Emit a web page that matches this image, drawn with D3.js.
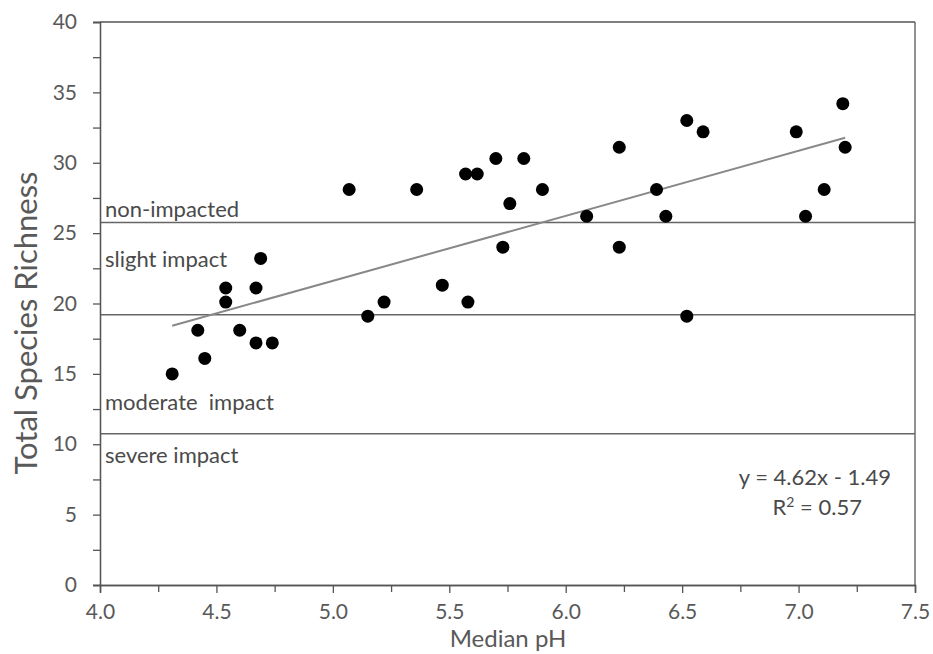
<!DOCTYPE html>
<html>
<head>
<meta charset="utf-8">
<script src="https://cdn.jsdelivr.net/npm/d3@7"></script>
<style>
  html, body { margin: 0; padding: 0; background: #fff; }
  svg { display: block; font-family: Lato, "Open Sans", sans-serif; }
</style>
</head>
<body>
<svg id="chart" width="933" height="654"></svg>
<script>
// ---- data ----
const medianPH = [4.31, 4.42, 4.45, 4.54, 4.54, 4.60, 4.67, 4.67, 4.69, 4.74,
                  5.07, 5.15, 5.22, 5.36, 5.47, 5.58, 5.57, 5.62, 5.70, 5.73,
                  5.76, 5.82, 5.90, 6.09, 6.23, 6.23, 6.39, 6.43, 6.52, 6.52,
                  6.59, 6.99, 7.03, 7.11, 7.19, 7.20];
const speciesRichness = [15, 18.1, 16.1, 21.1, 20.1, 18.1, 17.2, 21.1, 23.2, 17.2,
                         28.1, 19.1, 20.1, 28.1, 21.3, 20.1, 29.2, 29.2, 30.3, 24,
                         27.1, 30.3, 28.1, 26.2, 31.1, 24, 28.1, 26.2, 33, 19.1,
                         32.2, 32.2, 26.2, 28.1, 34.2, 31.1];
const xTicks = [4.0, 4.5, 5.0, 5.5, 6.0, 6.5, 7.0, 7.5];
const xMinorTicks = [4.25, 4.75, 5.25, 5.75, 6.25, 6.75, 7.25];
const yTicks = [0, 5, 10, 15, 20, 25, 30, 35, 40];
const yMinorTicks = [2.5, 7.5, 12.5, 17.5, 22.5, 27.5, 32.5, 37.5];
const thresholds = [25.75, 19.2, 10.75];
const zoneLabels = ["non-impacted", "slight impact", "moderate  impact", "severe impact"];
const zoneLabelY = [26.14, 22.6, 12.43, 8.66];
const slope = 4.62, intercept = -1.49, rSquared = 0.57;
const fitRange = [4.31, 7.2];

// ---- layout ----
const svg = d3.select("#chart");
const m = {left: 100, top: 22, right: 18, bottom: 69};
const W = 933 - m.left - m.right, H = 654 - m.top - m.bottom;
const x = d3.scaleLinear().domain([4, 7.5]).range([0, W]);
const y = d3.scaleLinear().domain([0, 40]).range([H, 0]);
const g = svg.append("g").attr("transform", `translate(${m.left},${m.top})`);
const axisCol = "#555";
const textCol = "#595959";

// frame (top and right)
g.append("line").attr("x1", 0).attr("x2", W).attr("y1", 0).attr("y2", 0)
  .attr("stroke", axisCol).attr("stroke-width", 1.3);
g.append("line").attr("x1", W).attr("x2", W).attr("y1", 0).attr("y2", H)
  .attr("stroke", axisCol).attr("stroke-width", 1.3);

// threshold lines
g.selectAll(".thr").data(thresholds).join("line")
  .attr("x1", 0).attr("x2", W)
  .attr("y1", d => y(d)).attr("y2", d => y(d))
  .attr("stroke", "#666").attr("stroke-width", 1.6);

// zone labels
g.selectAll(".zl").data(zoneLabels).join("text")
  .attr("x", 5).attr("y", (d, i) => y(zoneLabelY[i]))
  .attr("fill", "#4a4a4a").attr("font-size", 22)
  .attr("xml:space", "preserve")
  .style("white-space", "pre")
  .text(d => d);

// regression line
g.append("line")
  .attr("x1", x(fitRange[0])).attr("y1", y(slope * fitRange[0] + intercept))
  .attr("x2", x(fitRange[1])).attr("y2", y(slope * fitRange[1] + intercept))
  .attr("stroke", "#888").attr("stroke-width", 2);

// points
g.selectAll(".pt").data(medianPH).join("circle")
  .attr("cx", d => x(d)).attr("cy", (d, i) => y(speciesRichness[i]))
  .attr("r", 6.5).attr("fill", "#000");

// axes
const xAxis = g.append("g").attr("transform", `translate(0,${H})`)
  .call(d3.axisBottom(x).tickValues(xTicks).tickFormat(d3.format(".1f")).tickSize(8).tickPadding(11));
const xMinor = g.append("g").attr("transform", `translate(0,${H})`)
  .call(d3.axisBottom(x).tickValues(xMinorTicks).tickFormat("").tickSize(7));
const yAxis = g.append("g")
  .call(d3.axisLeft(y).tickValues(yTicks).tickFormat(d3.format("d")).tickSize(7).tickPadding(16));
const yMinor = g.append("g")
  .call(d3.axisLeft(y).tickValues(yMinorTicks).tickFormat("").tickSize(7));
[xAxis, xMinor, yAxis, yMinor].forEach(a => {
  a.select(".domain").attr("stroke", axisCol).attr("stroke-width", 1.3);
  a.selectAll(".tick line").attr("stroke", axisCol).attr("stroke-width", 1.3);
  a.selectAll(".tick text").attr("fill", textCol).attr("font-size", 21)
    .attr("font-family", "Lato, 'Open Sans', sans-serif");
});

// equation
g.append("text").attr("x", x(7.07)).attr("y", 485 - m.top)
  .attr("text-anchor", "middle").attr("fill", "#4a4a4a").attr("font-size", 22)
  .text(`y = ${slope}x - ${Math.abs(intercept)}`);
const r2 = g.append("text").attr("x", x(7.08)).attr("y", 515 - m.top)
  .attr("text-anchor", "middle").attr("fill", "#4a4a4a").attr("font-size", 22);
r2.append("tspan").text("R");
r2.append("tspan").attr("dy", -8).attr("font-size", 14).text("2");
r2.append("tspan").attr("dy", 8).text(` = ${rSquared}`);

// axis titles
svg.append("text").attr("x", 508).attr("y", 647)
  .attr("text-anchor", "middle").attr("fill", textCol).attr("font-size", 24)
  .text("Median pH");
svg.append("text")
  .attr("transform", `translate(37,323) rotate(-90)`)
  .attr("text-anchor", "middle").attr("fill", textCol).attr("font-size", 31)
  .text("Total Species Richness");
</script>
</body>
</html>
